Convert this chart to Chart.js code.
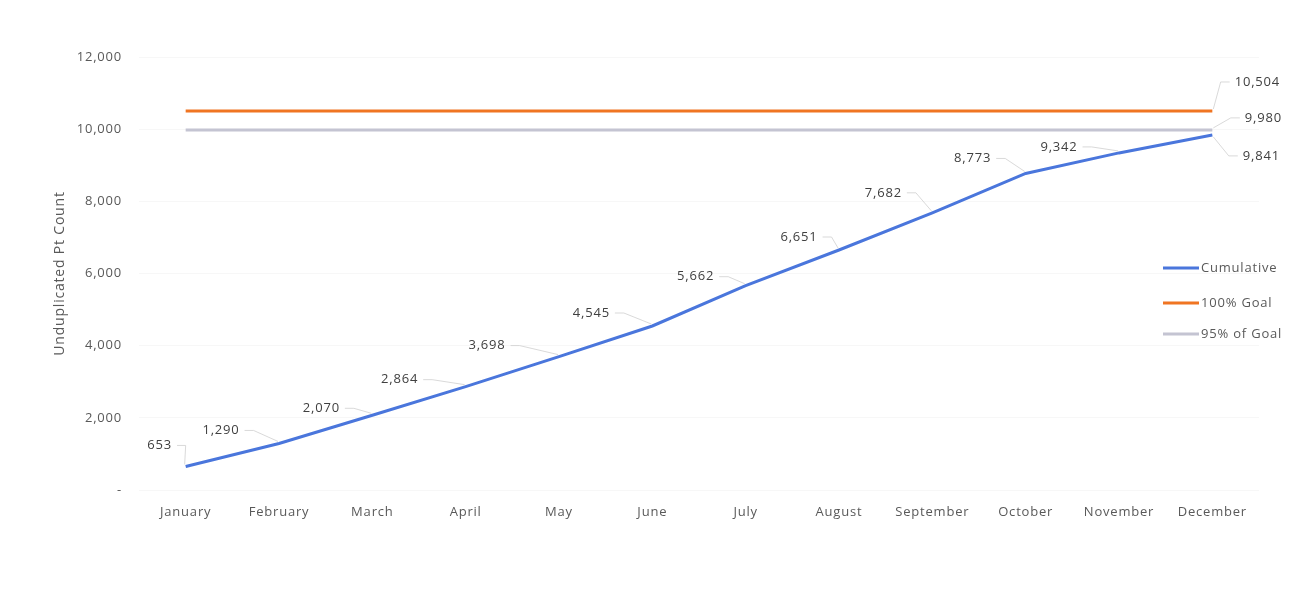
<!DOCTYPE html>
<html>
<head>
<meta charset="utf-8">
<script src="https://cdn.jsdelivr.net/npm/chart.js@4.4.1/dist/chart.umd.min.js"></script>
<style>
  html, body { margin: 0; padding: 0; background: #fff; }
  #wrap { width: 1306px; height: 605px; }
</style>
</head>
<body>
<div id="wrap"><canvas id="myChart" width="1306" height="605"></canvas></div>
<script>
const months = ['January', 'February', 'March', 'April', 'May', 'June', 'July', 'August', 'September', 'October', 'November', 'December'];
const cumulative = [653, 1290, 2070, 2864, 3698, 4545, 5662, 6651, 7682, 8773, 9342, 9841];
const goal100 = [10504, 10504, 10504, 10504, 10504, 10504, 10504, 10504, 10504, 10504, 10504, 10504];
const goal95 = [9980, 9980, 9980, 9980, 9980, 9980, 9980, 9980, 9980, 9980, 9980, 9980];
const yTicks = [0, 2000, 4000, 6000, 8000, 10000, 12000];

// label offsets (px) from each point, excel-style callouts
const cumLabelOffsets = [[-26, -21], [-58, -13], [-51, -7], [-66, -7], [-72, -11], [-61, -13], [-50, -9], [-40, -13], [-49, -20], [-53, -15], [-60, -6], [49, 21]];
const lastLabelOffsets = { 1: [45, -29], 2: [51, -12] };

const fmt = v => v.toLocaleString('en-US');
const FONT = '"Open Sans", "Liberation Sans", sans-serif';

// the original text is a wide light face; spread it a little
const spacingPlugin = {
    id: 'spacing',
    beforeDraw(chart) { chart.ctx.letterSpacing = '0.8px'; }
};

const calloutPlugin = {
    id: 'callouts',
    afterDatasetsDraw(chart) {
        const ctx = chart.ctx;
        ctx.save();
        ctx.letterSpacing = '0.8px';
        ctx.font = '13px ' + FONT;
        ctx.textBaseline = 'middle';
        const drawLabel = (pt, value, off) => {
            const text = fmt(value);
            const w = ctx.measureText(text).width;
            const lx = pt.x + off[0];
            const ly = pt.y + off[1];
            ctx.fillStyle = '#404040';
            ctx.textAlign = 'center';
            ctx.fillText(text, lx, ly);
            // leader line
            ctx.strokeStyle = '#cfcfcf';
            ctx.lineWidth = 0.8;
            ctx.beginPath();
            const dir = off[0] < 0 ? 1 : -1;
            const sx = lx + dir * (w / 2 + 5);
            const hx = sx + dir * 9;
            ctx.moveTo(sx, ly);
            ctx.lineTo(Math.abs(hx - pt.x) < 3 ? pt.x : hx, ly);
            ctx.lineTo(pt.x - dir * 1, pt.y + (off[1] < 0 ? -2 : 2));
            ctx.stroke();
        };
        const cumMeta = chart.getDatasetMeta(0);
        cumMeta.data.forEach((pt, i) => drawLabel(pt, cumulative[i], cumLabelOffsets[i]));
        [1, 2].forEach(di => {
            const meta = chart.getDatasetMeta(di);
            const last = meta.data.length - 1;
            drawLabel(meta.data[last], chart.data.datasets[di].data[last], lastLabelOffsets[di]);
        });

        // legend, drawn inside plot like the original
        const items = chart.data.datasets;
        const lgX = 1163, lgY = [268, 303, 334];
        items.forEach((ds, i) => {
            ctx.strokeStyle = ds.borderColor;
            ctx.lineWidth = 3;
            ctx.beginPath();
            ctx.moveTo(lgX, lgY[i]);
            ctx.lineTo(lgX + 36, lgY[i]);
            ctx.stroke();
            ctx.fillStyle = '#595959';
            ctx.textAlign = 'left';
            ctx.fillText(ds.label, lgX + 38, lgY[i]);
        });
        ctx.restore();
    }
};

const ctx = document.getElementById('myChart').getContext('2d');

const myChart = new Chart(ctx, {
    type: 'line',
    data: {
        labels: months,
        datasets: [
            { label: 'Cumulative', data: cumulative, borderColor: '#4a76dc', borderWidth: 3, pointRadius: 0, tension: 0 },
            { label: '100% Goal', data: goal100, borderColor: '#f07522', borderWidth: 3, pointRadius: 0 },
            { label: '95% of Goal', data: goal95, borderColor: '#c4c4d2', borderWidth: 3, pointRadius: 0 }
        ]
    },
    options: {
        responsive: false,
        animation: false,
        layout: { padding: { left: 52, right: 47, top: 57, bottom: 75 } },
        plugins: {
            legend: { display: false },
            tooltip: { enabled: false },
            title: { display: false }
        },
        scales: {
            x: {
                offset: true,
                grid: { display: false, drawTicks: false },
                border: { display: false },
                ticks: { color: '#595959', font: { family: FONT, size: 13 }, padding: 14, maxRotation: 0, autoSkip: false },
                afterFit: scale => { scale.height = 40; }
            },
            y: {
                min: 0,
                max: 12000,
                afterBuildTicks: scale => { scale.ticks = yTicks.map(v => ({ value: v })); },
                grid: { color: '#f7f7f7', drawTicks: false },
                border: { display: false },
                ticks: {
                    color: '#595959',
                    font: { family: FONT, size: 13 },
                    padding: 17,
                    callback: v => v === 0 ? '-' : fmt(v)
                },
                title: {
                    display: true,
                    text: 'Unduplicated Pt Count',
                    color: '#595959',
                    font: { family: FONT, size: 14 },
                    padding: 0
                },
                afterFit: scale => { scale.width = 87; }
            }
        }
    },
    plugins: [spacingPlugin, calloutPlugin]
});
</script>
</body>
</html>
